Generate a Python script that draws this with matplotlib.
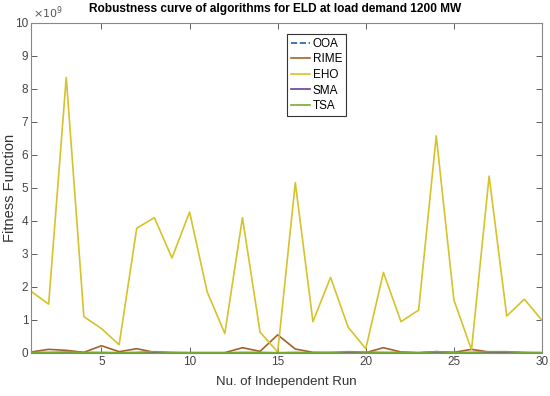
import matplotlib
matplotlib.use("Agg")
import matplotlib.pyplot as plt

plt.rcParams['font.family'] = ['Liberation Sans', 'DejaVu Sans']

# runs 1..30
runs = list(range(1, 31))

# fitness values (x 1e9)
eho = [1.87, 1.48, 8.35, 1.10, 0.74, 0.25, 3.78, 4.10, 2.88, 4.27,
       1.85, 0.59, 4.10, 0.63, 0.03, 5.16, 0.95, 2.29, 0.78, 0.13,
       2.44, 0.95, 1.30, 6.58, 1.61, 0.10, 5.36, 1.12, 1.63, 0.99]
rime = [0.03, 0.11, 0.08, 0.02, 0.22, 0.04, 0.13, 0.02, 0.01, 0.01,
        0.01, 0.01, 0.16, 0.05, 0.55, 0.12, 0.02, 0.01, 0.01, 0.01,
        0.16, 0.03, 0.01, 0.04, 0.02, 0.11, 0.03, 0.03, 0.01, 0.01]
ooa = [0.0] * 30
sma = [0.005, 0.004, 0.003, 0.004, 0.003, 0.002, 0.002, 0.003, 0.002, 0.004,
       0.002, 0.002, 0.003, 0.002, 0.002, 0.003, 0.002, 0.002, 0.003, 0.002,
       0.002, 0.003, 0.002, 0.002, 0.003, 0.002, 0.002, 0.003, 0.002, 0.002]
tsa = [0.02, 0.02, 0.03, 0.02, 0.02, 0.01, 0.02, 0.04, 0.02, 0.01,
       0.01, 0.01, 0.02, 0.02, 0.01, 0.02, 0.01, 0.02, 0.04, 0.03,
       0.02, 0.02, 0.01, 0.04, 0.02, 0.02, 0.04, 0.04, 0.02, 0.01]

fig = plt.figure(figsize=(5.5, 3.96), dpi=100)
ax = fig.add_axes([0.0564, 0.1086, 0.929, 0.8334])

lw = 1.2
ax.plot(runs, ooa, '--', color='#1f5fa8', lw=lw, label='OOA')
ax.plot(runs, rime, color='#a0622d', lw=lw, label='RIME')
ax.plot(runs, eho, color='#d6c22a', lw=lw, label='EHO')
ax.plot(runs, sma, color='#6a3d9a', lw=lw, label='SMA')
ax.plot(runs, tsa, color='#77ac30', lw=lw, label='TSA')

ax.set_xlim(1, 30)
ax.set_ylim(0, 10)
ax.set_xticks([5, 10, 15, 20, 25, 30])
ax.set_yticks(range(11))
ax.text(0.003, 1.005, r'$\times10^{9}$', transform=ax.transAxes,
        fontsize=8, color='#555555', va='bottom', ha='left')

ax.tick_params(direction='in', top=True, right=True, labelsize=8.5,
               colors='#444444', length=4, width=0.6, pad=2)
for s in ax.spines.values():
    s.set_color('#888888')
    s.set_linewidth(0.8)

fig.text(0.5, 0.992, 'Robustness curve of algorithms for ELD at load demand 1200 MW',
         ha='center', va='top', fontsize=8.6, fontweight='bold')
ax.set_xlabel('Nu. of Independent Run', fontsize=9.5, color='#333333', labelpad=6)
ax.set_ylabel('Fitness Function', fontsize=10.5, color='#333333')
ax.yaxis.set_label_coords(-0.028, 0.5)

leg = ax.legend(loc='upper left', bbox_to_anchor=(0.49, 0.985), fontsize=8.5,
                handlelength=1.6, handletextpad=0.2, labelspacing=0.3,
                borderpad=0.35, fancybox=False, framealpha=1)
leg.get_frame().set_edgecolor('#333333')
leg.get_frame().set_linewidth(0.8)

fig.savefig('out.png', dpi=100)
